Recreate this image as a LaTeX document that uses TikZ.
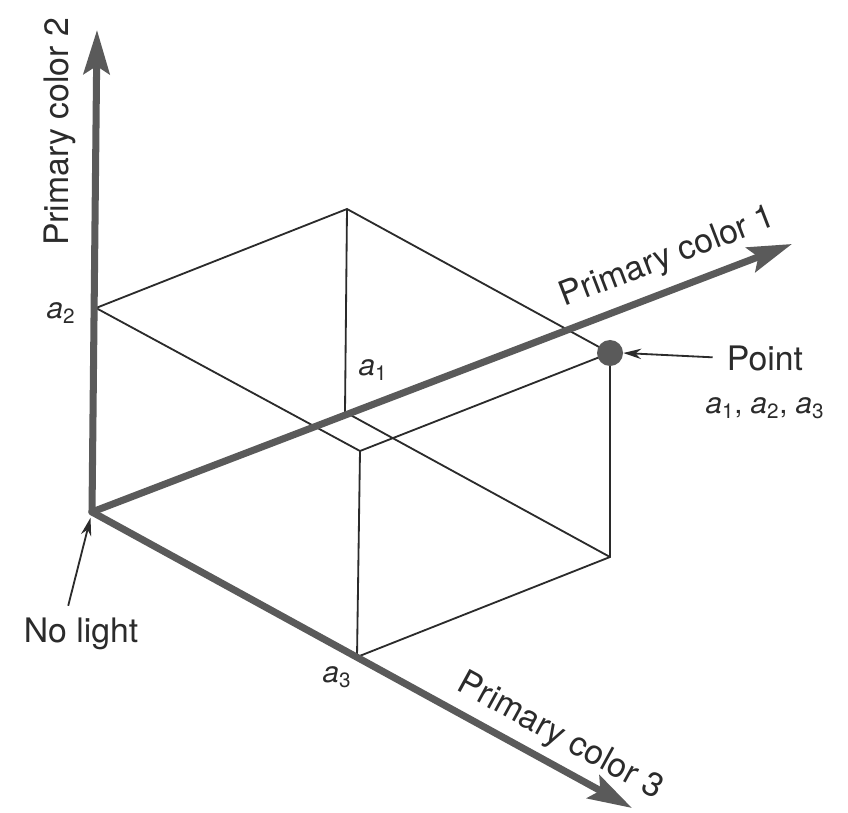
\documentclass[tikz,border=0pt]{standalone}
\usepackage{fontspec}
\setmainfont{TeX Gyre Heros}
\usetikzlibrary{arrows.meta, positioning, calc}
\definecolor{axisgray}{HTML}{5A5A5A}
\definecolor{edgeink}{HTML}{2B2B2B}
\newcommand{\acomp}[1]{\textit{a}\textsubscript{#1}}

\begin{document}
\begin{tikzpicture}[x=0.025cm, y=-0.025cm,
    axis/.style={draw=axisgray, line width=5pt, line cap=round,
                 -{Stealth[length=11mm, width=6.5mm, inset=2mm]}},
    edge/.style={draw=edgeink, line width=1.3pt},
    pointer/.style={draw=edgeink, line width=1.3pt, -{Stealth[length=4.5mm, width=2.6mm]}},
    dot/.style={circle, fill=axisgray, inner sep=0pt, minimum size=6.5mm},
    axlabel/.style={font=\fontsize{24}{28}\selectfont, text=edgeink, inner sep=0pt},
    comp/.style={font=\fontsize{21}{24}\selectfont, text=edgeink, inner sep=0pt}
]
\useasboundingbox (0,0) rectangle (848,813);

\coordinate (O)   at (92,512);
\coordinate (a1)  at (345,412);
\coordinate (a2)  at (96,308);
\coordinate (a3)  at (357,657);
\coordinate (a12) at (347,209);
\coordinate (a23) at (360,451);
\coordinate (a13) at (610,557);
\coordinate (a123) at (610,353);
\coordinate (tip1) at (792,244);
\coordinate (tip2) at (97,30);
\coordinate (tip3) at (632,808);

\draw[edge] (a2) -- (a12) -- (a123);
\draw[edge] (a12) -- (a1) -- (a13);
\draw[edge] (a2) -- (a23) -- (a123) -- (a13) -- (a3) -- (a23);

\draw[axis] (O) -- (tip2);
\draw[axis] (O) -- (tip1);
\draw[axis] (O) -- (tip3);

\node[dot] (pt) at (a123) {};

\node[axlabel, rotate=90]    (lab2) at (60,132)  {Primary color 2};
\node[axlabel, rotate=21]    (lab1) at (668,258) {Primary color 1};
\node[axlabel, rotate=-28.7] (lab3) at (560,737) {Primary color 3};

\node[comp] (ca2) at (61,313)  {\acomp{2}};
\node[comp] (ca1) at (373,370) {\acomp{1}};
\node[comp] (ca3) at (337,677) {\acomp{3}};

\node[axlabel] (ptlabel) at (765,358) {Point};
\node[comp]    (ptcomp)  at (765,408) {\acomp{1}, \acomp{2}, \acomp{3}};
\draw[pointer, shorten <=3.5mm] (ptlabel.west) -- (pt.east);

\node[axlabel] (nolight) at (81,634) {No light};
\draw[pointer, shorten >=1.5mm] ([xshift=-3.2mm, yshift=3mm]nolight.north) -- (O);
\end{tikzpicture}
\end{document}
